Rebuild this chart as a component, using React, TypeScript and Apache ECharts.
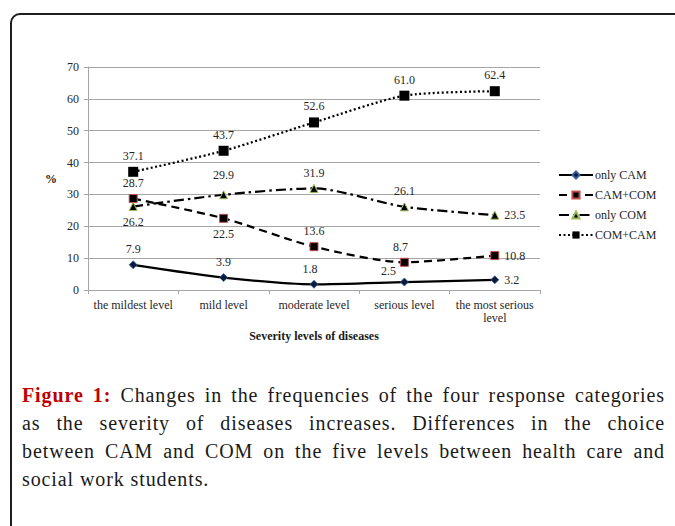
import React, { useEffect, useRef } from "react";
import * as echarts from "echarts";

const categories = [
  "the mildest level",
  "mild level",
  "moderate level",
  "serious level",
  "the most serious\nlevel",
];
const onlyCAM = [7.9, 3.9, 1.8, 2.5, 3.2];
const camCom = [28.7, 22.5, 13.6, 8.7, 10.8];
const onlyCOM = [26.2, 29.9, 31.9, 26.1, 23.5];
const comCam = [37.1, 43.7, 52.6, 61.0, 62.4];
const seriesNames = ["only CAM", "CAM+COM", "only COM", "COM+CAM"];

const FONT = "Liberation Serif";

// label placement per point (style config, not data)
const labelPos: Record<string, string[]> = {
  "only CAM": ["top", "top", "top", "top", "right"],
  "CAM+COM": ["top", "bottom", "top", "top", "right"],
  "only COM": ["bottom", "top", "top", "top", "right"],
  "COM+CAM": ["top", "top", "top", "top", "top"],
};
const labelOffset: Record<string, number[][]> = {
  "only CAM": [[0, 0], [0, 0], [-4, 0], [-16, 4], [0, 0]],
  "CAM+COM": [[0, 0], [0, 0], [0, 0], [-4, 0], [0, 0]],
  "only COM": [[0, 0], [0, -4], [0, 0], [0, 0], [0, 0]],
  "COM+CAM": [[0, 0], [0, 0], [0, 0], [0, 0], [0, 0]],
};

function buildData(name: string, values: number[]) {
  return values.map((v, i) => ({
    value: v,
    label: { position: labelPos[name][i], offset: labelOffset[name][i] },
  }));
}

export default function App() {
  const ref = useRef<HTMLDivElement>(null);
  useEffect(() => {
    document.body.style.margin = "0";
    if (!ref.current) return;
    const chart = echarts.init(ref.current, undefined, { renderer: "svg" });
    const labelCommon = {
      show: true,
      fontFamily: FONT,
      fontSize: 12,
      color: "#262626",
      formatter: (p: any) => Number(p.value).toFixed(1),
    };
    chart.setOption({
      animation: false,
      textStyle: { fontFamily: FONT },
      grid: { left: 88, right: 135, top: 67, bottom: 236 },
      graphic: [
        {
          type: "rect",
          z: -10,
          shape: { x: 11, y: 14, width: 720, height: 620, r: 9 },
          style: { fill: "none", stroke: "#1e1e1e", lineWidth: 2 },
          silent: true,
        },
      ],
      legend: {
        orient: "vertical",
        left: 553,
        top: 163,
        itemWidth: 34,
        itemHeight: 9,
        itemGap: 6,
        data: seriesNames,
        textStyle: {
          fontFamily: FONT,
          fontSize: 12,
          lineHeight: 14,
          color: "#262626",
          padding: [0, 0, 0, -3],
        },
      },
      xAxis: {
        type: "category",
        data: categories,
        boundaryGap: true,
        name: "Severity levels of diseases",
        nameLocation: "middle",
        nameGap: 40,
        nameTextStyle: {
          fontFamily: FONT,
          fontSize: 12,
          fontWeight: "bold",
          color: "#1a1a1a",
        },
        axisLine: { lineStyle: { color: "#a6a6a6", width: 1 } },
        axisTick: { show: true, length: 4, lineStyle: { color: "#a6a6a6" } },
        axisLabel: {
          fontFamily: FONT,
          fontSize: 12,
          color: "#262626",
          margin: 8,
          lineHeight: 13,
          interval: 0,
        },
      },
      yAxis: {
        type: "value",
        min: 0,
        max: 70,
        interval: 10,
        name: "%",
        nameLocation: "middle",
        nameRotate: 0,
        nameGap: 31,
        nameTextStyle: {
          fontFamily: FONT,
          fontSize: 12,
          fontWeight: "bold",
          color: "#1a1a1a",
        },
        axisLine: { show: true, lineStyle: { color: "#a6a6a6", width: 1 } },
        axisTick: { show: true, length: 4, lineStyle: { color: "#a6a6a6" } },
        axisLabel: {
          fontFamily: FONT,
          fontSize: 12,
          color: "#262626",
          margin: 9,
        },
        splitLine: { lineStyle: { color: "#a6a6a6", width: 1 } },
      },
      series: [
        {
          name: "only CAM",
          type: "line",
          smooth: 0.25,
          data: buildData("only CAM", onlyCAM),
          symbol: "diamond",
          symbolSize: 8,
          lineStyle: { color: "#000", width: 2.25, type: "solid" },
          itemStyle: { color: "#0b1a3c", borderColor: "#3a5fa0", borderWidth: 0.8 },
          label: labelCommon,
          z: 2,
        },
        {
          name: "CAM+COM",
          type: "line",
          smooth: 0.25,
          data: buildData("CAM+COM", camCom),
          symbol: "rect",
          symbolSize: 8,
          lineStyle: { color: "#000", width: 2.25, type: [8, 5] },
          itemStyle: { color: "#000", borderColor: "#c0504d", borderWidth: 1 },
          label: labelCommon,
          z: 3,
        },
        {
          name: "only COM",
          type: "line",
          smooth: 0.25,
          data: buildData("only COM", onlyCOM),
          symbol: "triangle",
          symbolSize: 8,
          lineStyle: { color: "#000", width: 2.25, type: [10, 4, 2.5, 4] },
          itemStyle: { color: "#000", borderColor: "#9bbb59", borderWidth: 1 },
          label: labelCommon,
          z: 4,
        },
        {
          name: "COM+CAM",
          type: "line",
          smooth: 0.25,
          data: buildData("COM+CAM", comCam),
          symbol: "rect",
          symbolSize: 10,
          lineStyle: { color: "#000", width: 2.25, type: [2, 2.5] },
          itemStyle: { color: "#000", borderColor: "#000", borderWidth: 0 },
          label: labelCommon,
          z: 5,
        },
      ],
    });
    return () => chart.dispose();
  }, []);

  const lineStyle: React.CSSProperties = {
    textAlign: "justify",
    textAlignLast: "justify",
    whiteSpace: "nowrap",
  };
  return (
    <div style={{ position: "relative", width: 675, height: 526, overflow: "hidden", background: "#fff" }}>
      <div ref={ref} style={{ position: "absolute", left: 0, top: 0, width: 675, height: 526 }} />
      <div
        style={{
          position: "absolute",
          left: 22,
          top: 381,
          width: 643,
          fontFamily: FONT,
          fontSize: 20,
          letterSpacing: "0.9px",
          lineHeight: "28px",
          color: "#1a1a1a",
        }}
      >
        <div style={lineStyle}>
          <span style={{ fontWeight: "bold", color: "#c00000" }}>Figure 1:</span> Changes in the frequencies of the four response categories
        </div>
        <div style={lineStyle}>as the severity of diseases increases. Differences in the choice</div>
        <div style={lineStyle}>between CAM and COM on the five levels between health care and</div>
        <div>social work students.</div>
      </div>
    </div>
  );
}
